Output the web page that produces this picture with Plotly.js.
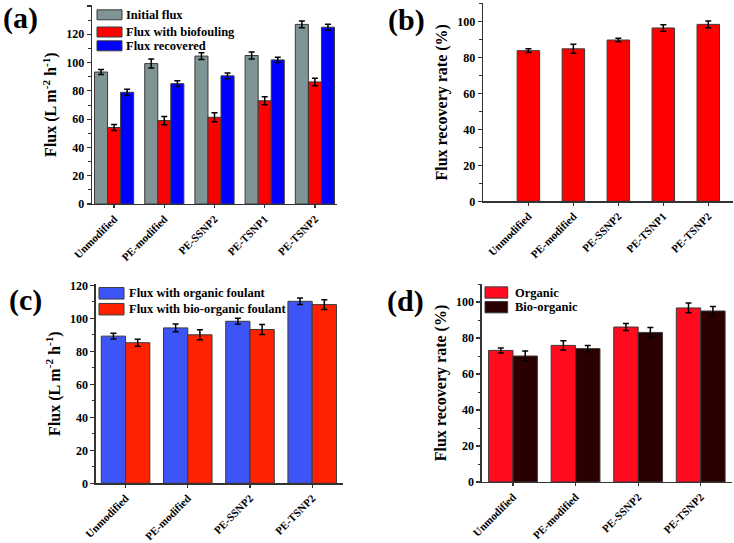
<!DOCTYPE html>
<html>
<head>
<meta charset="utf-8">
<script src="https://cdn.plot.ly/plotly-3.0.1.min.js"></script>
<style>html,body{margin:0;padding:0;background:#fff;}#chart{width:734px;height:543px;}</style>
</head>
<body>
<div id="chart"></div>
<script>
// ---- data ----
const cats5 = ['Unmodified', 'PE-modified', 'PE-SSNP2', 'PE-TSNP1', 'PE-TSNP2'];
const cats4 = ['Unmodified', 'PE-modified', 'PE-SSNP2', 'PE-TSNP2'];

const aNames = ['Initial flux', 'Flux with biofouling', 'Flux recovered'];
const aInitial = [93.3, 99.3, 104.6, 105.0, 127.0];
const aInitialErr = [1.8, 3.2, 2.4, 2.5, 2.4];
const aBiofouling = [54.1, 59.0, 61.3, 73.0, 86.3];
const aBiofoulingErr = [2.1, 2.9, 3.2, 2.9, 2.7];
const aRecovered = [79.0, 85.1, 90.6, 101.9, 125.0];
const aRecoveredErr = [2.2, 2.0, 2.0, 1.9, 2.1];

const bRecovery = [83.7, 84.7, 89.6, 96.3, 98.3];
const bRecoveryErr = [1.1, 2.5, 1.0, 1.8, 1.9];

const cNames = ['Flux with organic foulant', 'Flux with bio-organic foulant'];
const cOrganic = [89.2, 94.2, 98.2, 110.3];
const cOrganicErr = [1.8, 2.3, 1.8, 2.0];
const cBio = [85.2, 90.0, 93.2, 108.3];
const cBioErr = [2.1, 3.0, 3.0, 3.0];

const dNames = ['Organic', 'Bio-organic'];
const dOrganic = [73.1, 75.9, 86.1, 96.7];
const dOrganicErr = [1.4, 2.6, 2.0, 2.7];
const dBio = [70.0, 74.1, 83.1, 95.0];
const dBioErr = [2.8, 1.7, 2.8, 2.5];

// ---- styling ----
const W = 734, H = 543;
const FAM = '"Liberation Serif"';
const px = x => x / W;
const py = y => 1 - y / H;
const lineCol = '#333333';

function bar(x, y, err, name, color, xa, ya) {
  return {
    type: 'bar', x: x, y: y, name: name, xaxis: xa, yaxis: ya,
    marker: {color: color, line: {color: '#3a3a3a', width: 1}},
    error_y: {type: 'data', array: err, visible: true, color: '#000', thickness: 1.5, width: 3},
    showlegend: false
  };
}

const traces = [
  bar(cats5, aInitial, aInitialErr, aNames[0], '#7f9494', 'x', 'y'),
  bar(cats5, aBiofouling, aBiofoulingErr, aNames[1], '#ff0000', 'x', 'y'),
  bar(cats5, aRecovered, aRecoveredErr, aNames[2], '#0000ff', 'x', 'y'),
  bar(cats5, bRecovery, bRecoveryErr, 'Flux recovery rate', '#ff0000', 'x2', 'y2'),
  bar(cats4, cOrganic, cOrganicErr, cNames[0], '#3d54f6', 'x3', 'y3'),
  bar(cats4, cBio, cBioErr, cNames[1], '#ff2200', 'x3', 'y3'),
  bar(cats4, dOrganic, dOrganicErr, dNames[0], '#ff0a1e', 'x4', 'y4'),
  bar(cats4, dBio, dBioErr, dNames[1], '#2a0000', 'x4', 'y4')
];

const tickFont = {family: FAM, size: 12, color: '#000', weight: 'bold'};
const xTickFont = {family: FAM, size: 11, color: '#000', weight: 'bold'};
const titleFont = {family: FAM, size: 16, color: '#000', weight: 'bold'};

function xAxis(dom, anchor, range) {
  return {
    domain: dom, anchor: anchor, range: range, type: 'category',
    showline: true, linecolor: lineCol, linewidth: 1.3, mirror: false,
    ticks: 'outside', ticklen: 3, tickwidth: 1.2, tickcolor: lineCol,
    tickangle: -45, tickfont: xTickFont, showgrid: false, zeroline: false, fixedrange: true
  };
}
function yAxis(dom, anchor, range, title) {
  return {
    domain: dom, anchor: anchor, range: range,
    showline: true, linecolor: lineCol, linewidth: 1.3,
    ticks: 'outside', ticklen: 4, tickwidth: 1.2, tickcolor: lineCol,
    dtick: 20, tick0: 0,
    minor: {ticks: 'outside', ticklen: 2.5, dtick: 10, tickcolor: lineCol, tickwidth: 1, showgrid: false},
    tickfont: tickFont, showgrid: false, zeroline: false, fixedrange: true,
    title: {text: title, font: titleFont, standoff: 5}
  };
}

const fluxTitle = 'Flux (L m<sup>-2</sup> h<sup>-1</sup>)';
const frrTitle = 'Flux recovery rate (%)';

const layout = {
  width: W, height: H,
  margin: {l: 0, r: 0, t: 0, b: 0},
  paper_bgcolor: '#fff', plot_bgcolor: 'rgba(0,0,0,0)',
  font: {family: FAM, color: '#000', weight: 'bold'},
  barmode: 'group',
  bargap: 0.22, bargroupgap: 0,
  showlegend: false,
  xaxis: xAxis([px(92), px(337)], 'y', [-0.44, 4.44]),
  yaxis: yAxis([py(204), py(5.3)], 'x', [0, 140.5], fluxTitle),
  xaxis2: xAxis([px(483), px(733)], 'y2', [-1.01, 4.55]),
  yaxis2: yAxis([py(201.3), py(3.3)], 'x2', [0, 110], frrTitle),
  xaxis3: xAxis([px(95.7), px(343.3)], 'y3', [-0.48, 3.5]),
  yaxis3: yAxis([py(483.3), py(284)], 'x3', [0, 120.8], fluxTitle),
  xaxis4: xAxis([px(481.7), px(732)], 'y4', [-0.5, 3.5]),
  yaxis4: yAxis([py(482), py(284)], 'x4', [0, 110], frrTitle),
  shapes: [],
  annotations: []
};

// panel (b) uses a thinner bar
traces[3].width = 0.5;

// panel letters
[['(a)', 1, 18], ['(b)', 386, 20], ['(c)', 7, 300], ['(d)', 385, 301]].forEach(p => {
  layout.annotations.push({
    text: p[0], xref: 'paper', yref: 'paper', x: px(p[1]), y: py(p[2]),
    xanchor: 'left', yanchor: 'middle', showarrow: false,
    font: {family: FAM, size: 30, color: '#000', weight: 'bold'}
  });
});

// manual legends
function legend(names, colors, x0, x1, ys, hgt, tx) {
  names.forEach((n, i) => {
    layout.shapes.push({
      type: 'rect', xref: 'paper', yref: 'paper',
      x0: px(x0), x1: px(x1), y0: py(ys[i] + hgt / 2), y1: py(ys[i] - hgt / 2),
      fillcolor: colors[i], line: {color: '#3a3a3a', width: 1}
    });
    layout.annotations.push({
      text: n, xref: 'paper', yref: 'paper', x: px(tx), y: py(ys[i]),
      xanchor: 'left', yanchor: 'middle', showarrow: false,
      font: {family: FAM, size: 12.5, color: '#000', weight: 'bold'}
    });
  });
}
legend(aNames, ['#7f9494', '#ff0000', '#0000ff'], 97, 122, [14.8, 32, 45.8], 10, 124);
legend(cNames, ['#3d54f6', '#ff2200'], 99, 124, [293.3, 309.2], 11.5, 127);
legend(dNames, ['#ff0a1e', '#2a0000'], 485, 507.7, [292.5, 307.2], 11.3, 513);

Plotly.newPlot('chart', traces, layout, {displayModeBar: false, staticPlot: true});
</script>
</body>
</html>
